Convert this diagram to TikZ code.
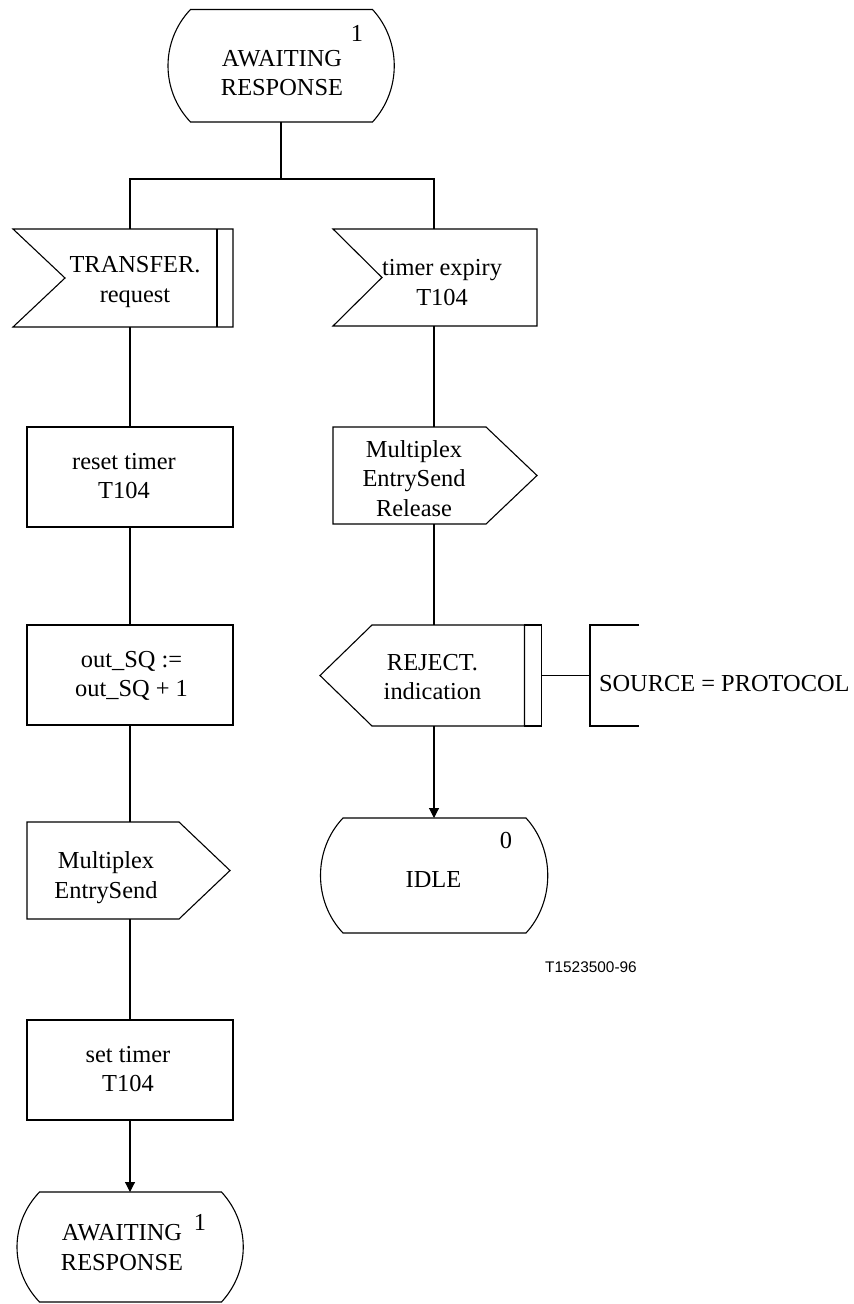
\documentclass[tikz,border=0pt]{standalone}
\usepackage{fontspec}
\setmainfont{Liberation Serif}
\newfontfamily\figfont{Liberation Sans}
\usetikzlibrary{calc,arrows.meta}
\newcommand\drawstate[1]{%
  \draw ($(#1.north west)+(23,0)$) -- ($(#1.north east)+(-22,0)$)
   .. controls ($(#1.north east)+(7,31.5)$) and ($(#1.south east)+(7,-31.5)$) .. ($(#1.south east)+(-22,0)$)
   -- ($(#1.south west)+(23,0)$)
   .. controls ($(#1.south west)+(-7,-31.5)$) and ($(#1.north west)+(-7,31.5)$) .. ($(#1.north west)+(23,0)$) -- cycle;}
\begin{document}
\begin{tikzpicture}[x=0.5pt,y=-0.5pt, line width=0.55pt,
  every node/.style={inner sep=0pt, outer sep=0pt},
  txt/.style={font=\fontsize{12.2}{14.7}\selectfont, align=center},
  frame/.style={draw=none, shape=rectangle},
  proc/.style={draw, minimum width=103pt, minimum height=50pt},
  flow/.style={-{Triangle[length=5pt,width=5pt]}},
]
\useasboundingbox (0,0) rectangle (854,1304);

% top state
\node[frame, minimum width=113.5pt, minimum height=56.25pt] (s1) at (281,65.75) {};
\drawstate{s1}
\node[txt] (s1t) at (282,73) {AWAITING\\RESPONSE};
\node[txt] (s1n) at (357,33) {1};

% inputs
\node[frame, minimum width=110pt, minimum height=49pt] (in1) at (130,278) {};
\draw (13,229) -- (233,229) -- (233,327) -- (13,327) -- (65,278) -- cycle;
\draw (217,229) -- (217,327);
\node[txt] (in1t) at (135,282) {TRANSFER.\\request};

\node[frame, minimum width=102pt, minimum height=48.5pt] (in2) at (434,277.5) {};
\draw (333,229) -- (537,229) -- (537,326) -- (333,326) -- (382,277.5) -- cycle;
\node[txt] (in2t) at (442,282.5) {timer expiry\\T104};

\coordinate (j) at (281,179);
\draw (s1.south) -- (j);
\draw (in1.north) |- (j) -| (in2.north);

% left column
\node[proc] (b1) at (130,477) {};
\node[txt] (b1t) at (124,476) {reset timer\\T104};
\draw (in1.south) -- (b1.north);

\node[proc] (b2) at (130,675) {};
\node[txt] (b2t) at (131.5,676) {out\_SQ :=\\out\_SQ + 1};
\draw (b1.south) -- (b2.north);

\node[frame, minimum width=101.5pt, minimum height=48.5pt] (o1) at (130,870.5) {};
\draw (27,822) -- (179,822) -- (230,870.5) -- (179,919) -- (27,919) -- cycle;
\node[txt] (o1t) at (106,877.5) {Multiplex\\EntrySend};
\draw (b2.south) -- (o1.north);

\node[proc] (b3) at (130,1070) {};
\node[txt] (b3t) at (128,1069) {set timer\\T104};
\draw (o1.south) -- (b3.north);

\node[frame, minimum width=113.5pt, minimum height=55pt] (s2) at (130,1247) {};
\drawstate{s2}
\draw[flow] (b3.south) -- (s2.north);
\node[txt] (s2t) at (122,1247.5) {AWAITING\\RESPONSE};
\node[txt] (s2n) at (200,1222) {1};

% right column
\node[frame, minimum width=102pt, minimum height=48.5pt] (o2) at (434,475.5) {};
\draw (333,427) -- (486,427) -- (537,475.5) -- (486,524) -- (333,524) -- cycle;
\node[txt] (o2t) at (414,478.5) {Multiplex\\EntrySend\\Release};
\draw (in2.south) -- (o2.north);

\node[frame, minimum width=107.5pt, minimum height=50.5pt] (i1) at (434,675.5) {};
\draw (320,675.5) -- (372,625) -- (524.5,625) -- (524.5,726) -- (372,726) -- cycle;
\draw (524.5,625) rectangle (541.5,726);
\node[txt] (i1t) at (432.5,677) {REJECT.\\indication};
\draw (o2.south) -- (i1.north);

\node[frame, minimum width=24.5pt, minimum height=50.5pt] (c1) at (614.5,675.5) {};
\draw (639,625) -- (590,625) -- (590,726) -- (639,726);
\draw (i1.east) -- (c1.west);
\node[txt, anchor=west] (c1t) at (599,684) {SOURCE = PROTOCOL};

\node[frame, minimum width=114pt, minimum height=57.5pt] (s3) at (434,875.5) {};
\drawstate{s3}
\draw[flow] (i1.south) -- (s3.north);
\node[txt] (s3t) at (433.5,880) {IDLE};
\node[txt] (s3n) at (506,840) {0};

\node[font=\figfont\fontsize{7.7}{9}\selectfont] (ref) at (591,967) {T1523500-96};
\end{tikzpicture}
\end{document}
